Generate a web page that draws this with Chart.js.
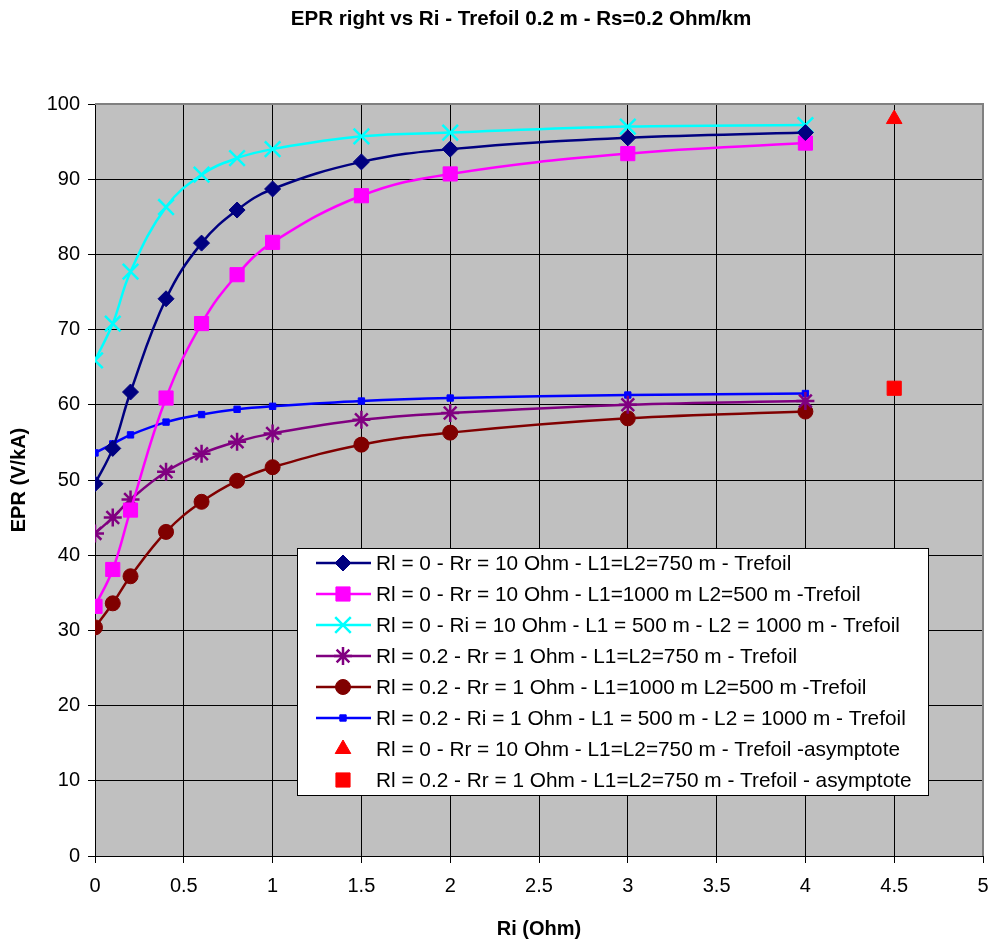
<!DOCTYPE html>
<html>
<head>
<meta charset="utf-8">
<title>EPR right vs Ri</title>
<script src="https://cdn.jsdelivr.net/npm/chart.js@4/dist/chart.umd.min.js"></script>
<style>
    html, body { margin: 0; padding: 0; background: #fff; }
    #wrap { width: 990px; height: 944px; }
</style>
</head>
<body>
<div id="wrap"><canvas id="myChart" width="990" height="944"></canvas></div>
<script>
// Ri values (Ohm) shared by all curves
const riValues = [0, 0.1, 0.2, 0.4, 0.6, 0.8, 1, 1.5, 2, 3, 4];

// EPR (V/kA)
const eprRl0L750 = [49.5, 54.2, 61.7, 74.1, 81.5, 85.9, 88.7, 92.3, 94.0, 95.5, 96.2];
const eprRl0L1000 = [33.2, 38.1, 46.0, 60.9, 70.8, 77.3, 81.6, 87.8, 90.7, 93.4, 94.8];
const eprRl0L500 = [65.9, 70.8, 77.7, 86.3, 90.6, 92.8, 94.0, 95.7, 96.2, 97.0, 97.2];
const eprRl02L750 = [42.9, 45.0, 47.4, 51.1, 53.5, 55.1, 56.2, 58.0, 58.9, 60.0, 60.5];
const eprRl02L1000 = [30.4, 33.6, 37.2, 43.1, 47.1, 49.9, 51.7, 54.7, 56.3, 58.2, 59.1];
const eprRl02L500 = [53.6, 54.8, 56.0, 57.7, 58.7, 59.4, 59.8, 60.5, 60.9, 61.3, 61.5];

// asymptotes, plotted at Ri = 4.5
const asymptoteRi = [4.5];
const asymptoteRl0 = [98.0];
const asymptoteRl02 = [62.2];

const seriesLabels = [
    "Rl = 0 - Rr = 10 Ohm - L1=L2=750 m - Trefoil",
    "Rl = 0 - Rr = 10 Ohm - L1=1000 m L2=500 m -Trefoil",
    "Rl = 0 - Ri = 10 Ohm - L1 = 500 m - L2 = 1000 m - Trefoil",
    "Rl = 0.2 - Rr = 1 Ohm - L1=L2=750 m - Trefoil",
    "Rl = 0.2 - Rr = 1 Ohm - L1=1000 m L2=500 m -Trefoil",
    "Rl = 0.2 - Ri = 1 Ohm - L1 = 500 m - L2 = 1000 m - Trefoil",
    "Rl = 0 - Rr = 10 Ohm - L1=L2=750 m - Trefoil -asymptote",
    "Rl = 0.2 - Rr = 1 Ohm - L1=L2=750 m - Trefoil - asymptote"
];

const xTitle = "Ri (Ohm)";
const yTitle = "EPR (V/kA)";
const chartTitle = "EPR right vs Ri - Trefoil 0.2 m - Rs=0.2 Ohm/km";

// turn x list + y list into {x, y} points
function toPoints(xs, ys) {
    return ys.map(function (y, i) {
        return { x: xs[i], y: y };
    });
}

// one dataset for a curve
function curve(label, values, color, style, radius, pointBorder) {
    return {
        label: label,
        data: toPoints(riValues, values),
        showLine: true,
        borderColor: color,
        backgroundColor: color,
        borderWidth: 2.5,
        tension: 0.4,
        pointStyle: style,
        pointRadius: radius,
        pointHoverRadius: radius,
        pointBorderWidth: pointBorder,
        pointBorderColor: color,
        pointBackgroundColor: color
    };
}

// one dataset for a single marker
function marker(label, values, color, style, radius) {
    return {
        label: label,
        data: toPoints(asymptoteRi, values),
        showLine: false,
        borderColor: color,
        backgroundColor: color,
        pointStyle: style,
        pointRadius: radius,
        pointHoverRadius: radius,
        pointBorderWidth: 1,
        pointBorderColor: color,
        pointBackgroundColor: color
    };
}

const datasets = [
    curve(seriesLabels[0], eprRl0L750, "#000080", "rectRot", 8, 1),
    curve(seriesLabels[1], eprRl0L1000, "#FF00FF", "rect", 10, 1),
    curve(seriesLabels[2], eprRl0L500, "#00FFFF", "crossRot", 11, 2.5),
    curve(seriesLabels[3], eprRl02L750, "#800080", "star", 9, 2.5),
    curve(seriesLabels[4], eprRl02L1000, "#800000", "circle", 7.5, 1),
    curve(seriesLabels[5], eprRl02L500, "#0000FF", "rect", 4.5, 1),
    marker(seriesLabels[6], asymptoteRl0, "#FF0000", "triangle", 9),
    marker(seriesLabels[7], asymptoteRl02, "#FF0000", "rect", 10)
];

// grey plot area
const plotBackground = {
    id: "plotBackground",
    beforeDraw: function (chart) {
        const a = chart.chartArea;
        const ctx = chart.ctx;
        ctx.save();
        ctx.fillStyle = "#C0C0C0";
        ctx.fillRect(a.left, a.top, a.right - a.left, a.bottom - a.top);
        ctx.restore();
    },
    beforeDatasetsDraw: function (chart) {
        // grey frame on top and right, like the excel plot area
        const a = chart.chartArea;
        const ctx = chart.ctx;
        ctx.save();
        ctx.strokeStyle = "#808080";
        ctx.lineWidth = 2;
        ctx.beginPath();
        ctx.moveTo(a.left, a.top);
        ctx.lineTo(a.right, a.top);
        ctx.lineTo(a.right, a.bottom);
        ctx.stroke();
        ctx.restore();
    }
};

// title, centred where excel put it (not on the canvas middle)
const topTitle = {
    id: "topTitle",
    afterDraw: function (chart) {
        const ctx = chart.ctx;
        ctx.save();
        ctx.fillStyle = "#000000";
        ctx.font = "bold 20.6px Arial, 'Liberation Sans', sans-serif";
        ctx.textAlign = "center";
        ctx.textBaseline = "middle";
        ctx.fillText(chartTitle, 521, 19);
        ctx.restore();
    }
};

// legend box drawn inside the plot
const boxLegend = {
    id: "boxLegend",
    afterDraw: function (chart) {
        const ctx = chart.ctx;
        const left = 297, top = 548, width = 631, height = 247;
        const rowStart = 563, rowGap = 31;
        ctx.save();
        ctx.fillStyle = "#FFFFFF";
        ctx.fillRect(left, top, width, height);
        ctx.strokeStyle = "#000000";
        ctx.lineWidth = 1;
        ctx.strokeRect(left + 0.5, top + 0.5, width, height);

        chart.data.datasets.forEach(function (ds, i) {
            const y = rowStart + i * rowGap;
            if (ds.showLine) {
                ctx.strokeStyle = ds.borderColor;
                ctx.lineWidth = 2.5;
                ctx.beginPath();
                ctx.moveTo(316, y);
                ctx.lineTo(371, y);
                ctx.stroke();
            }
            ctx.fillStyle = ds.pointBackgroundColor;
            ctx.strokeStyle = ds.pointBorderColor;
            ctx.lineWidth = ds.pointBorderWidth;
            Chart.helpers.drawPoint(ctx, {
                pointStyle: ds.pointStyle,
                radius: ds.pointRadius,
                rotation: 0,
                borderWidth: ds.pointBorderWidth
            }, 343, y);

            ctx.fillStyle = "#000000";
            ctx.font = "20.8px Arial, 'Liberation Sans', sans-serif";
            ctx.textAlign = "left";
            ctx.textBaseline = "middle";
            ctx.fillText(ds.label, 376, y + 1);
        });
        ctx.restore();
    }
};

document.addEventListener("DOMContentLoaded", function (event) {
    Chart.defaults.font.family = "Arial, 'Liberation Sans', sans-serif";
    Chart.defaults.font.size = 20;
    Chart.defaults.color = "#000000";

    const ctx = document.getElementById("myChart").getContext("2d");
    const myChart = new Chart(ctx, {
        type: "scatter",
        data: { datasets: datasets },
        options: {
            responsive: false,
            animation: false,
            events: [],
            // markers are big, don't let chart.js shrink the plot for them
            layout: { autoPadding: false, padding: { left: 0, right: 7, top: 104, bottom: 0 } },
            plugins: {
                legend: { display: false },
                tooltip: { enabled: false },
                title: { display: false }
            },
            scales: {
                x: {
                    type: "linear",
                    min: 0,
                    max: 5,
                    afterFit: function (scale) {
                        scale.height = 88;
                        scale.paddingLeft = 0;
                        scale.paddingRight = 0;
                    },
                    ticks: {
                        stepSize: 0.5,
                        padding: 11,
                        maxRotation: 0,
                        autoSkip: false,
                        callback: function (value) { return String(value); }
                    },
                    grid: { color: "#000000", lineWidth: 1, tickLength: 7, tickColor: "#000000" },
                    border: { color: "#000000", width: 1 },
                    title: {
                        display: true,
                        text: xTitle,
                        font: { size: 20, weight: "bold" },
                        padding: { top: 0, bottom: 3 }
                    }
                },
                y: {
                    type: "linear",
                    min: 0,
                    max: 100,
                    afterFit: function (scale) { scale.width = 95; },
                    ticks: { stepSize: 10, padding: 8 },
                    grid: { color: "#000000", lineWidth: 1, tickLength: 7, tickColor: "#000000" },
                    border: { color: "#000000", width: 1 },
                    title: {
                        display: true,
                        text: yTitle,
                        font: { size: 20, weight: "bold" },
                        padding: { top: 7, bottom: 0 }
                    }
                }
            }
        },
        plugins: [plotBackground, boxLegend, topTitle]
    });
});
</script>
</body>
</html>
